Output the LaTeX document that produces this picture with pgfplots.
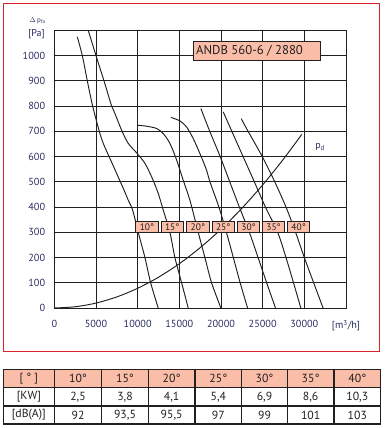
\documentclass[border=0pt]{standalone}
\usepackage{fontspec}
\setmainfont{PT Sans}
\usepackage{pgfplots}
\pgfplotsset{compat=1.18}
\definecolor{salmon}{RGB}{250,190,168}
\definecolor{navy}{RGB}{40,45,95}
\definecolor{ink}{RGB}{35,31,32}
\definecolor{framered}{RGB}{220,35,45}
\tikzset{angbox/.style={fill=salmon, draw=ink, line width=0.8bp, minimum width=22.5bp, minimum height=11bp, inner sep=0pt, font=\fontsize{9.5}{10}\selectfont, text=ink}}
\begin{document}
\begin{tikzpicture}
\path[use as bounding box] (0,0) rectangle (385bp,-428bp);
\draw[framered, line width=1bp] (3.3bp,-3.3bp) rectangle (379.3bp,-351bp);
\begin{axis}[at={(54.3bp,-308bp)}, anchor=south west, scale only axis,
  width=291.7bp, height=277.7bp,
  xmin=0, xmax=35000, ymin=0, ymax=1100,
  scaled x ticks=false, scaled y ticks=false,
  xtick={0,5000,10000,15000,20000,25000,30000,35000},
  xticklabels={0,5000,10000,15000,20000,25000,30000,{[m\textsuperscript{3}/h]}},
  ytick={0,100,200,300,400,500,600,700,800,900,1000},
  yticklabels={0,100,200,300,400,500,600,700,800,900,1000},
  grid=major, major grid style={ink, line width=0.9bp},
  axis line style={ink, line width=0.9bp},
  major tick length=0pt,
  tick label style={font=\fontsize{10.3}{12}\selectfont, text=navy, inner sep=0pt},
  xticklabel style={anchor=north, yshift=-12bp},
  yticklabel style={anchor=east, xshift=-9bp},
  clip=false,
]
% 10 deg
\addplot[ink, line width=0.95bp, smooth, tension=0.5] coordinates {(2760,1074)(3360,1000)(3960,900)(4600,800)(5400,700)(5875,652)(6680,592)(7480,533)(8275,474)(8875,427)(9400,388)(10070,300)(10875,200)(11560,100)(12470,0)};
% 15 deg
\addplot[ink, line width=0.95bp, smooth, tension=0.5] coordinates {(4077,1099)(5000,1000)(5960,900)(6880,800)(7280,770)(8080,704)(8875,652)(9950,612)(10875,573)(11675,520)(12470,454)(13070,388)(13870,300)(14470,200)(15275,100)(16070,0)};
% 20 deg
\addplot[ink, line width=0.95bp, smooth, tension=0.5] coordinates {(10000,724)(11080,720)(12280,711)(13070,691)(13870,652)(14680,586)(15470,506)(16270,427)(17270,300)(18070,200)(18870,100)(19990,0)};
% 25 deg
\addplot[ink, line width=0.95bp, smooth, tension=0.5] coordinates {(13990,755)(15070,741)(15875,717)(16670,671)(17470,612)(18270,546)(18670,500)(19750,400)(20650,300)(21480,200)(22300,100)(23190,0)};
% 30 deg
\addplot[ink, line width=0.95bp, smooth, tension=0.5] coordinates {(17590,790)(18650,700)(19900,600)(21050,500)(22200,400)(23400,300)(24450,200)(25480,100)(26540,0)};
% 35 deg
\addplot[ink, line width=0.95bp, smooth, tension=0.5] coordinates {(20270,777)(21300,700)(22650,600)(24000,500)(25330,400)(26800,300)(27800,200)(28700,100)(29580,0)};
% 40 deg
\addplot[ink, line width=0.95bp, smooth, tension=0.5] coordinates {(22430,750)(23250,700)(24950,600)(26450,500)(27800,400)(28950,300)(30000,200)(31120,100)(32250,0)};
% pd
\addplot[ink, line width=0.95bp, smooth, tension=0.5] coordinates {(0,0)(2500,4.9)(5000,19.5)(7500,43.9)(10000,78)(12500,121.9)(15000,175.5)(17500,238.9)(20000,312)(22500,394.9)(25000,487.5)(27500,589.9)(29700,688)};

\node[angbox] at (axis cs:11115,320) {10°};
\node[angbox] at (axis cs:14148,320) {15°};
\node[angbox] at (axis cs:17230,320) {20°};
\node[angbox] at (axis cs:20263,320) {25°};
\node[angbox] at (axis cs:23310,320) {30°};
\node[angbox] at (axis cs:26307,320) {35°};
\node[angbox] at (axis cs:29315,320) {40°};

\draw[fill=salmon, draw=ink, line width=0.9bp] (axis cs:16666,978.6) rectangle (axis cs:31941,1057.7);
\node[anchor=west, inner sep=0pt, text=ink, font=\fontsize{12.8}{14}\selectfont] at (axis cs:17000,1018) {ANDB 560-6 / 2880};
\node[text=navy, inner sep=0pt, font=\fontsize{10}{12}\selectfont] at (axis cs:31900,637) {p\textsubscript{d}};
\end{axis}
\node[text=navy, inner sep=0pt, font=\fontsize{10}{12}\selectfont] at (36.5bp,-34bp) {[Pa]};
\node[text=navy, inner sep=0pt, font=\fontsize{7}{8}\selectfont] at (37.5bp,-21bp) {$\Delta$\,p\textsubscript{fa}};

% table
\fill[salmon] (3.3bp,-369.3bp) rectangle (380.7bp,-387.7bp);
\draw[ink, line width=1.2bp] (3.3bp,-369.3bp) rectangle (380.7bp,-424bp);
\draw[ink, line width=1.2bp] (3.3bp,-387.7bp) -- (380.7bp,-387.7bp);
\draw[ink, line width=1.2bp] (3.3bp,-406bp) -- (380.7bp,-406bp);
\foreach \x in {54.3,101.7,148.3,195,241.7,287.3,334} {
  \draw[ink, line width=1.2bp] (\x bp,-369.3bp) -- (\x bp,-424bp);
}
\tikzset{tc/.style={inner sep=0pt, text=ink, font=\fontsize{11.8}{13}\selectfont}}
\foreach \cx/\a/\b/\c in {28.8/{[ ° ]}/{[KW]}/{[dB(A)]}, 78/10°/{2,5}/92, 125/15°/{3,8}/{93,5}, 171.65/20°/{4,1}/{95,5}, 218.35/25°/{5,4}/97, 264.5/30°/{6,9}/99, 310.65/35°/{8,6}/101, 357.35/40°/{10,3}/103} {
  \node[tc] at (\cx bp,-378.5bp) {\a};
  \node[tc] at (\cx bp,-396.9bp) {\b};
  \node[tc] at (\cx bp,-415bp) {\c};
}
\end{tikzpicture}
\end{document}
